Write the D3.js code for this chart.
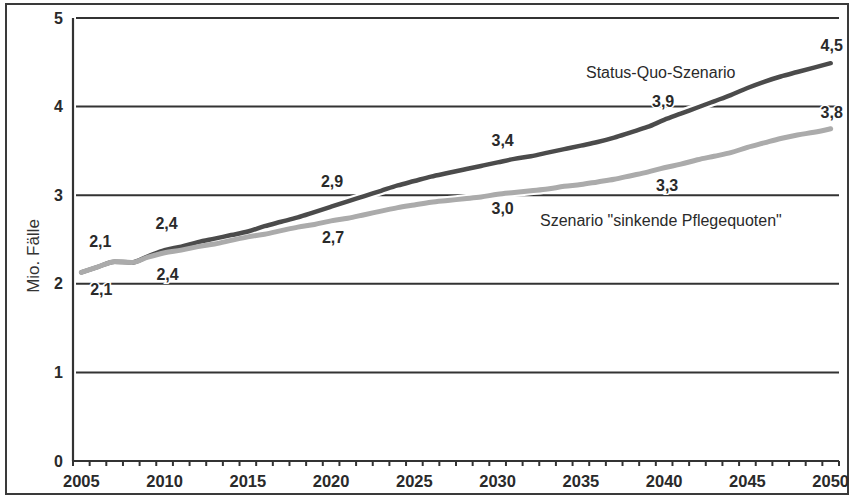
<!DOCTYPE html>
<html>
<head>
<meta charset="utf-8">
<script src="https://cdn.jsdelivr.net/npm/d3@7"></script>
<style>
  html, body { margin: 0; padding: 0; background: #fff; }
  svg { display: block; font-family: "Liberation Sans", Arial, sans-serif; }
</style>
</head>
<body>
<svg id="chart" width="853" height="498"></svg>
<script>
// ---------- DATA ----------
const years = [2005,2006,2007,2008,2009,2010,2011,2012,2013,2014,2015,2016,2017,2018,2019,
               2020,2021,2022,2023,2024,2025,2026,2027,2028,2029,2030,2031,2032,2033,2034,
               2035,2036,2037,2038,2039,2040,2041,2042,2043,2044,2045,2046,2047,2048,2049,2050];

const statusQuo = [2.13,2.19,2.25,2.24,2.31,2.38,2.42,2.47,2.51,2.55,2.59,2.65,2.70,2.75,2.81,
                   2.87,2.93,2.99,3.05,3.11,3.16,3.21,3.25,3.29,3.33,3.37,3.41,3.44,3.48,3.52,
                   3.56,3.60,3.65,3.71,3.77,3.85,3.92,3.99,4.06,4.13,4.21,4.28,4.34,4.39,4.44,4.49];

const sinkend   = [2.13,2.19,2.25,2.24,2.30,2.35,2.38,2.42,2.45,2.49,2.53,2.56,2.60,2.64,2.67,
                   2.71,2.74,2.78,2.82,2.86,2.89,2.92,2.94,2.96,2.98,3.01,3.03,3.05,3.07,3.10,
                   3.12,3.15,3.18,3.22,3.26,3.31,3.35,3.40,3.44,3.48,3.54,3.59,3.64,3.68,3.71,3.75];

const yTicks = [0,1,2,3,4,5];
const xTickLabels = [2005,2010,2015,2020,2025,2030,2035,2040,2045,2050];

const labelYears     = [2005,2010,2020,2030,2040,2050];
const statusLabels   = ["2,1","2,4","2,9","3,4","3,9","4,5"];
const sinkendLabels  = ["2,1","2,4","2,7","3,0","3,3","3,8"];

const seriesNames = ["Status-Quo-Szenario", "Szenario \"sinkende Pflegequoten\""];
const yTitle = "Mio. Fälle";

// ---------- LAYOUT ----------
const svg = d3.select("#chart");
const pL = 73, pR = 839, pT = 18, pB = 461;

const x = d3.scaleBand().domain(years).range([pL, pR]).paddingInner(0).paddingOuter(0);
const cx = d => x(d) + x.bandwidth() / 2;
const y = d3.scaleLinear().domain([0, 5]).range([pB, pT]);

// outer frame
svg.append("rect").attr("x", 6).attr("y", 4).attr("width", 842).attr("height", 490)
  .attr("fill", "none").attr("stroke", "#3a3a3a").attr("stroke-width", 2);

// gridlines
svg.append("g").selectAll("line").data(yTicks.filter(t => t > 0)).join("line")
  .attr("x1", pL + 3).attr("x2", pR)
  .attr("y1", d => y(d)).attr("y2", d => y(d))
  .attr("stroke", "#333").attr("stroke-width", 2);

// y axis
const yAxis = svg.append("g").attr("transform", `translate(${pL},0)`)
  .call(d3.axisLeft(y).tickValues(yTicks).tickSize(0).tickPadding(10).tickFormat(d3.format("d")));
yAxis.select(".domain").attr("stroke", "#333").attr("stroke-width", 2.2)
  .attr("d", `M0,${pT}V${pB}`);
yAxis.selectAll("text").attr("font-size", 16).attr("font-weight", "bold").attr("fill", "#2a2a2a")
  .attr("font-family", "Liberation Sans, Arial, sans-serif");

// x axis
const xAxis = svg.append("g").attr("transform", `translate(0,${pB})`)
  .call(d3.axisBottom(x).tickValues(xTickLabels).tickSize(0).tickPadding(14));
xAxis.select(".domain").attr("stroke", "#333").attr("stroke-width", 2.2)
  .attr("d", `M${pL},0H${pR}`);
xAxis.selectAll("text").attr("font-size", 16.5).attr("font-weight", "bold").attr("fill", "#2a2a2a")
  .attr("font-family", "Liberation Sans, Arial, sans-serif");

// minor ticks at band boundaries
const boundaries = years.map(d => x(d)).concat([x(years[years.length - 1]) + x.bandwidth()]);
svg.append("g").selectAll("line").data(boundaries).join("line")
  .attr("x1", d => d).attr("x2", d => d)
  .attr("y1", pB).attr("y2", pB + 5)
  .attr("stroke", "#333").attr("stroke-width", 2);

// y title
svg.append("text").attr("transform", "translate(39,256) rotate(-90)")
  .attr("text-anchor", "middle").attr("font-size", 17).attr("fill", "#333")
  .text(yTitle);

// lines
const lineGen = vals => d3.line().x((d, i) => cx(years[i])).y(d => y(d)).curve(d3.curveMonotoneX)(vals);

const gLines = svg.append("g");
[statusQuo, sinkend].forEach(v => {
  gLines.append("path").attr("d", lineGen(v)).attr("fill", "none")
    .attr("stroke", "#fff").attr("stroke-width", 9).attr("stroke-linecap", "round").attr("stroke-linejoin", "round");
});
gLines.append("path").attr("d", lineGen(statusQuo)).attr("fill", "none")
  .attr("stroke", "#4b4b4b").attr("stroke-width", 4.5).attr("stroke-linecap", "round").attr("stroke-linejoin", "round");
gLines.append("path").attr("d", lineGen(sinkend)).attr("fill", "none")
  .attr("stroke", "#ababab").attr("stroke-width", 5).attr("stroke-linecap", "round").attr("stroke-linejoin", "round");

// value labels (offsets are layout only)
const upOff   = [[19,-31],[2,-27],[1,-25],[5,-22],[-1,-18],[1,-18]];
const downOff = [[20,17],[3,22],[2,17],[5,14],[3,18],[1,-16]];
const gLab = svg.append("g").attr("font-size", 16).attr("font-weight", "bold")
  .attr("fill", "#2a2a2a").attr("text-anchor", "middle");
labelYears.forEach((yr, i) => {
  const idx = years.indexOf(yr);
  gLab.append("text").attr("x", cx(yr) + upOff[i][0]).attr("y", y(statusQuo[idx]) + upOff[i][1])
    .attr("dy", "0.35em").attr("stroke", "#fff").attr("stroke-width", 3).attr("paint-order", "stroke")
    .text(statusLabels[i]);
  gLab.append("text").attr("x", cx(yr) + downOff[i][0]).attr("y", y(sinkend[idx]) + downOff[i][1])
    .attr("dy", "0.35em").attr("stroke", "#fff").attr("stroke-width", 3).attr("paint-order", "stroke")
    .text(sinkendLabels[i]);
});

// series names
svg.append("text").attr("x", 586).attr("y", 72).attr("dy", "0.35em")
  .attr("font-size", 16).attr("fill", "#2a2a2a").text(seriesNames[0]);
svg.append("text").attr("x", 540).attr("y", 220).attr("dy", "0.35em")
  .attr("font-size", 16).attr("fill", "#2a2a2a").text(seriesNames[1]);
</script>
</body>
</html>
